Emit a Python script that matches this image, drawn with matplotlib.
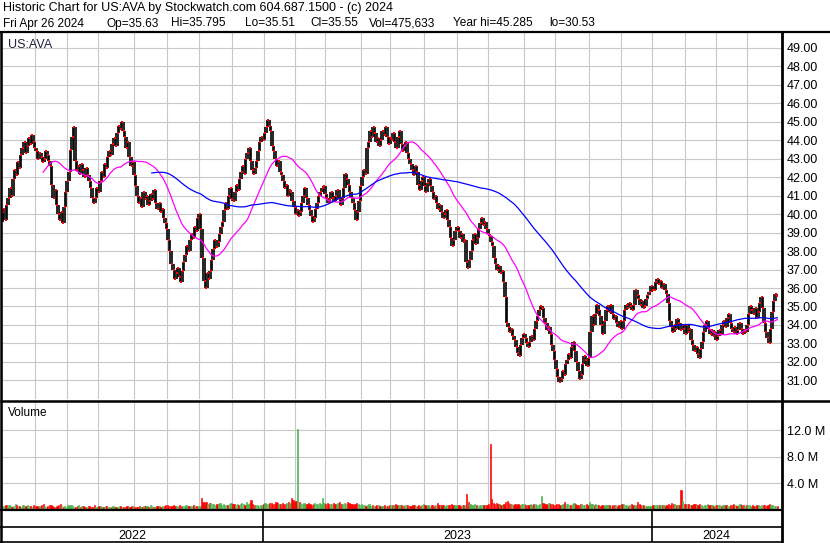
import matplotlib
matplotlib.use('Agg')
import matplotlib.pyplot as plt
import numpy as np
import pandas as pd

plt.rcParams['font.family'] = ['Liberation Sans', 'DejaVu Sans']

W, H = 830, 543

# NYSE holidays inside the window
holidays = ['2022-05-30', '2022-06-20', '2022-07-04', '2022-09-05', '2022-11-24',
            '2022-12-26', '2023-01-02', '2023-01-16', '2023-02-20', '2023-04-07',
            '2023-05-29', '2023-06-19', '2023-07-04', '2023-09-04', '2023-11-23',
            '2023-12-25', '2024-01-01', '2024-01-15', '2024-02-19', '2024-03-29']

# daily closes, one row per month (Apr 2022 .. Apr 2024)
closes = [
    39.8, 40.2, 39.6, 40.1,
    40.3, 39.7, 40.5, 40.9, 41.4, 41.0, 41.9, 42.4, 42.1, 42.8, 42.5, 43.2, 43.6, 43.9, 43.3, 43.7, 44.1, 43.8, 44.3, 43.9, 43.6,
    43.4, 43.0, 43.3, 43.1, 42.8, 43.0, 43.4, 43.2, 42.9, 42.6, 41.6, 40.9, 41.3, 40.5, 40.0, 39.7, 40.1, 39.5, 40.4, 41.2, 41.8,
    42.3, 43.5, 44.2, 44.7, 42.9, 42.4, 42.6, 42.2, 42.7, 42.4, 42.0, 42.5, 42.1, 41.8, 41.4, 40.9, 40.6, 40.9, 41.4, 41.2,
    41.8, 42.3, 42.0, 42.7, 42.5, 43.1, 43.4, 43.2, 43.8, 44.1, 43.7, 44.4, 44.8, 44.6, 45.0, 44.5, 44.2, 43.6, 43.9, 43.1, 42.6, 42.8, 42.1,
    41.5, 41.0, 40.6, 40.9, 40.4, 41.2, 40.8, 41.0, 40.5, 40.7, 41.1, 40.8, 41.3, 40.6, 40.3, 40.6, 40.1, 40.3, 39.8, 39.5, 39.2,
    38.6, 38.0, 37.3, 37.0, 36.5, 36.8, 37.1, 36.6, 36.3, 36.9, 37.4, 37.8, 38.3, 38.0, 38.6, 38.9, 38.7, 39.3, 39.1, 39.8, 40.0,
    39.2, 37.6, 36.4, 36.0, 36.8, 36.5, 36.9, 37.5, 38.1, 38.6, 38.2, 38.5, 38.9, 39.3, 39.6, 40.2, 40.6, 40.3, 41.0, 41.4, 40.8,
    40.7, 41.2, 41.6, 41.3, 41.9, 42.3, 42.6, 42.2, 43.0, 43.3, 43.6, 42.9, 42.4, 42.2, 42.5, 42.9, 43.4, 43.9, 44.2, 44.0, 44.4,
    44.7, 45.1, 44.8, 44.5, 43.7, 43.4, 43.0, 42.6, 42.9, 42.3, 42.1, 41.8, 41.4, 41.6, 41.0, 41.3, 41.2, 40.7, 40.4, 40.0,
    40.2, 39.9, 40.1, 40.6, 41.0, 41.4, 40.9, 40.5, 40.2, 39.9, 39.6, 39.8, 40.3, 40.6, 41.0, 41.2, 41.4, 41.5, 41.1,
    40.9, 40.6, 40.8, 41.2, 40.9, 40.7, 41.0, 41.3, 40.8, 40.5, 40.9, 41.4, 42.2, 41.9, 41.6, 41.2, 40.9, 40.6, 40.2, 39.7, 40.1, 40.7, 41.5,
    42.0, 42.4, 42.2, 43.6, 43.9, 44.5, 44.2, 44.7, 44.4, 43.9, 44.1, 43.7, 44.0, 44.5, 44.3, 44.7, 44.2, 43.8, 44.1,
    44.0, 44.4, 43.9, 43.6, 44.2, 44.5, 43.8, 43.4, 43.7, 43.9, 43.3, 43.0, 42.7, 42.4, 42.1, 42.6, 42.3, 41.6, 41.3, 41.8, 42.0, 41.5,
    41.2, 41.7, 41.9, 41.5, 41.2, 40.8, 41.0, 40.6, 40.3, 40.5, 40.1, 39.8, 40.0, 40.2, 39.7, 39.3, 38.7, 38.3, 38.6, 39.1, 39.3,
    39.1, 38.7, 38.9, 38.5, 38.6, 37.4, 37.1, 37.5, 38.0, 38.6, 38.9, 38.4, 38.7, 39.2, 39.5, 39.8, 39.4, 39.6, 39.2, 38.9,
    38.8, 38.5, 38.3, 37.6, 37.3, 37.0, 37.2, 36.8, 36.9, 36.3, 35.5, 34.1, 33.9, 33.6, 33.8, 33.4, 33.2, 32.8, 32.5, 32.3, 32.9, 33.3, 33.5,
    33.3, 33.0, 32.8, 33.1, 33.4, 33.2, 33.8, 34.2, 34.5, 34.8, 35.0, 34.9, 34.4, 34.1, 33.7, 33.9, 33.5, 32.9, 32.6, 32.1,
    31.6, 31.2, 30.9, 31.1, 31.5, 31.3, 31.9, 32.1, 32.4, 32.2, 32.8, 33.1, 32.6, 32.0, 31.5, 31.1, 31.3, 31.9, 32.3, 32.1, 31.8, 32.2,
    33.6, 34.5, 34.0, 34.6, 35.1, 34.8, 34.5, 34.0, 33.5, 34.2, 34.8, 35.0, 34.7, 35.1, 34.6, 34.3, 34.5, 34.1, 33.9, 34.2, 33.8,
    34.2, 34.8, 35.1, 34.9, 35.2, 35.0, 34.8, 35.1, 35.9, 35.6, 35.4, 35.1, 35.3, 34.9, 35.0, 35.4, 35.6, 35.8, 36.1, 35.9,
    35.9, 36.3, 36.5, 36.2, 36.4, 36.0, 36.2, 35.9, 35.7, 35.2, 34.2, 33.9, 33.6, 34.0, 33.8, 34.3, 34.1, 33.7, 34.0, 33.8, 33.5,
    34.0, 33.6, 33.8, 33.2, 32.9, 32.6, 32.8, 32.4, 32.2, 32.7, 33.1, 33.6, 34.0, 34.2, 33.8, 33.5, 33.7, 33.4, 33.6, 33.2,
    33.4, 33.7, 33.5, 34.0, 34.2, 33.9, 34.4, 34.6, 34.1, 33.8, 33.6, 33.9, 33.5, 33.7, 34.1, 33.8, 33.5, 33.7, 33.6, 34.0,
    34.6, 35.0, 34.8, 34.6, 34.9, 34.4, 34.7, 35.2, 35.5, 34.9, 34.1, 33.6, 33.3, 33.0, 33.8, 34.7, 35.3, 35.7, 35.55,
]

# daily volume in thousands of shares, same layout
volumes_k = [
    420, 510, 380, 460,
    520, 610, 450, 700, 480, 390, 560, 830, 640, 470, 520, 380, 610, 440, 560, 720, 490, 530, 410, 640, 580,
    470, 390, 520, 640, 900, 560, 430, 480, 610, 720, 500, 380, 450, 530, 610, 820, 470, 390, 560, 430, 680,
    520, 710, 480, 390, 440, 560, 610, 380, 470, 520, 430, 360, 490, 580, 410, 450, 620, 380, 430, 510,
    460, 380, 420, 510, 590, 440, 370, 400, 480, 350, 410, 390, 460, 530, 420, 380, 440, 510, 360, 400, 470, 520, 430,
    390, 450, 510, 420, 380, 470, 560, 490, 410, 620, 530, 440, 380, 460, 520, 470, 410, 560, 480, 610, 640,
    540, 480, 590, 620, 510, 470, 560, 690, 530, 480, 520, 610, 570, 490, 460, 580, 640, 520, 470, 560, 600,
    1800, 1150, 980, 1200, 860, 920, 1050, 780, 840, 700, 880, 760, 920, 690, 810, 740, 650, 720, 870, 940, 760,
    820, 700, 880, 650, 760, 930, 840, 710, 1100, 780, 920, 1500, 860, 690, 750, 610, 580, 640, 710, 820, 950,
    870, 760, 1050, 920, 810, 880, 1120, 960, 840, 790, 1010, 880, 760, 920, 1080, 950, 1800, 1400, 1150, 1300,
    12200, 1200, 1050, 880, 920, 760, 840, 990, 810, 720, 870, 950, 830, 760, 910, 880, 1700, 1020, 860,
    940, 820, 760, 880, 1010, 790, 850, 920, 1100, 870, 780, 960, 840, 1200, 1050, 880, 790, 730, 820, 910, 760, 690, 850,
    720, 680, 590, 640, 760, 530, 610, 570, 490, 620, 680, 550, 470, 590, 640, 520, 580, 660, 610,
    750, 690, 820, 640, 580, 710, 630, 560, 690, 740, 610, 530, 580, 670, 720, 600, 540, 650, 590, 680, 770, 620,
    560, 640, 590, 720, 680, 550, 610, 930, 660, 580, 700, 640, 590, 620, 710, 680, 900, 750, 640, 690, 730,
    620, 580, 690, 740, 650, 2300, 1100, 860, 720, 680, 760, 640, 590, 700, 650, 610, 720, 680, 740, 810,
    10000, 1600, 1050, 880, 920, 760, 840, 690, 720, 810, 1100, 1300, 980, 860, 780, 720, 850, 690, 760, 640, 820, 900, 760,
    700, 650, 720, 810, 680, 760, 820, 690, 740, 880, 2100, 1050, 860, 780, 720, 1020, 840, 760, 690, 720,
    760, 810, 680, 740, 900, 1150, 820, 760, 690, 720, 880, 960, 780, 740, 690, 820, 760, 650, 700, 820, 740, 1200,
    880, 760, 690, 820, 740, 660, 600, 710, 580, 640, 720, 690, 610, 560, 650, 700, 620, 590, 680, 740, 860,
    790, 720, 650, 600, 680, 760, 640, 590, 620, 1200, 880, 740, 690, 620, 560, 540, 600, 580, 520, 610,
    640, 720, 680, 610, 740, 690, 620, 580, 660, 760, 720, 1000, 860, 790, 710, 680, 740, 2900, 1300, 880, 760,
    860, 780, 690, 740, 820, 760, 680, 720, 790, 650, 600, 680, 740, 820, 700, 660, 610, 580, 640, 700,
    680, 620, 590, 660, 720, 640, 580, 550, 620, 690, 760, 640, 580, 610, 900, 720, 640, 580, 620, 660,
    620, 580, 640, 560, 600, 690, 640, 580, 720, 660, 610, 590, 640, 760, 700, 620, 580, 540, 476,
]

price_ticks = list(range(31, 50))
vol_ticks = [4, 8, 12]
header1 = "Historic Chart for US:AVA by Stockwatch.com 604.687.1500 - (c) 2024"
header2 = ["Fri Apr 26 2024", "Op=35.63", "Hi=35.795", "Lo=35.51", "Cl=35.55",
           "Vol=475,633", "Year hi=45.285", "lo=30.53"]
header2_x = [3, 106, 171, 245, 310, 369, 453, 549]

# trading calendar
days = pd.bdate_range('2022-01-03', '2024-04-26', freq='C', holidays=holidays)
dates = days[-len(closes):]
idx = np.arange(len(closes))
c = np.array(closes)
prev = np.r_[c[0], c[:-1]]
nxt = np.r_[c[1:], c[-1]]
# bar extent: span of the neighbouring closes
lo = np.minimum(np.minimum(prev, c), nxt)
hi = np.maximum(np.maximum(prev, c), nxt)
ma_fast = pd.Series(c).rolling(30).mean()
ma_slow = pd.Series(c).rolling(100).mean()
vol_m = np.array(volumes_k) / 1000.0
vcolors = np.where(c >= prev, '#4db34d', '#ff0000')

# month boundaries sit between the last and first bar
month_edges = [i - 0.5 for i in range(1, len(dates)) if dates[i].month != dates[i - 1].month]
i23 = int(np.argmax(dates.year == 2023)) - 0.5
i24 = int(np.argmax(dates.year == 2024)) - 0.5

# x scale: Jan 2023 at px 263, Jan 2024 at px 652
s = (652 - 263) / (i24 - i23)
xlim = (i23 - (263 - 2) / s, i23 + (781 - 263) / s)


def frac(x0, y0, x1, y1):
    return [x0 / W, 1 - y1 / H, (x1 - x0) / W, (y1 - y0) / H]


fig = plt.figure(figsize=(W / 100, H / 100), dpi=100)
fig.patch.set_facecolor('white')

grid_kw = dict(color='#c8c8c8', lw=0.8)

# price panel
ax = fig.add_axes(frac(2, 33, 781, 399))
ax.vlines(idx, lo, hi, color='black', lw=1.2, zorder=3)
ax.plot(idx, c, 's', color='red', ms=1.6, mew=0, zorder=4)
ax.plot(idx, ma_fast, color='#ff00ff', lw=0.9, zorder=5)
ax.plot(idx, ma_slow, color='#0000ff', lw=0.9, zorder=5)
ax.set_xlim(xlim)
ax.set_ylim(29.99, 49.81)
ax.set_yticks(price_ticks)
ax.set_yticklabels([f'{v:.2f}' for v in price_ticks])
ax.yaxis.tick_right()
ax.set_xticks(month_edges)
ax.tick_params(axis='x', length=0, labelbottom=False)
ax.tick_params(axis='y', length=0, pad=4, labelsize=9)
ax.grid(True, **grid_kw)
ax.set_axisbelow(True)
for sp in ax.spines.values():
    sp.set_visible(False)

# volume panel (edge in the same colour keeps thin bars solid)
axv = fig.add_axes(frac(2, 402, 781, 509.5))
axv.bar(idx, vol_m, width=0.8, color=vcolors, edgecolor=vcolors, lw=0.45, zorder=3)
axv.set_xlim(xlim)
axv.set_ylim(0, 16.3)
axv.set_yticks(vol_ticks)
axv.set_yticklabels([f'{v:.1f} M' for v in vol_ticks])
axv.yaxis.tick_right()
axv.set_xticks(month_edges)
axv.tick_params(axis='x', length=0, labelbottom=False)
axv.tick_params(axis='y', length=0, pad=4, labelsize=9)
axv.grid(True, **grid_kw)
axv.set_axisbelow(True)
for sp in axv.spines.values():
    sp.set_visible(False)

# date band with years
axd = fig.add_axes(frac(2, 511, 781, 542))
axd.set_xlim(xlim)
axd.set_ylim(0, 1)
axd.axis('off')
bounds = [xlim[0], i23, i24, xlim[1]]
axd.vlines([i23, i24], 0, 1, color='black', lw=1.2)
for k, yr in enumerate(['2022', '2023', '2024']):
    axd.text((bounds[k] + bounds[k + 1]) / 2, 0.2, yr, ha='center', va='center', fontsize=9)

# frame and header in pixel space
ov = fig.add_axes([0, 0, 1, 1], zorder=10)
ov.set_xlim(0, W)
ov.set_ylim(H, 0)
ov.axis('off')
ov.patch.set_visible(False)
ov.hlines(32, 0, W, color='black', lw=1.6)
ov.hlines(400.5, 0, W, color='black', lw=1.8)
ov.hlines(510, 0, 782, color='black', lw=1.6)
ov.hlines(527, 0, 782, color='black', lw=1.2)
ov.hlines(542, 0, 782, color='black', lw=1.2)
ov.vlines(1, 32, H, color='black', lw=1.8)
ov.vlines(782, 32, H, color='black', lw=2.0)
ov.text(3, 8.5, header1, ha='left', va='center', fontsize=9)
for t, xp in zip(header2, header2_x):
    ov.text(xp, 23.5, t, ha='left', va='center', fontsize=8.6)
ov.text(8, 45, 'US:AVA', ha='left', va='center', fontsize=9, color='#202040')
ov.text(8, 413, 'Volume', ha='left', va='center', fontsize=8.5)

fig.savefig('out.png', dpi=100)
